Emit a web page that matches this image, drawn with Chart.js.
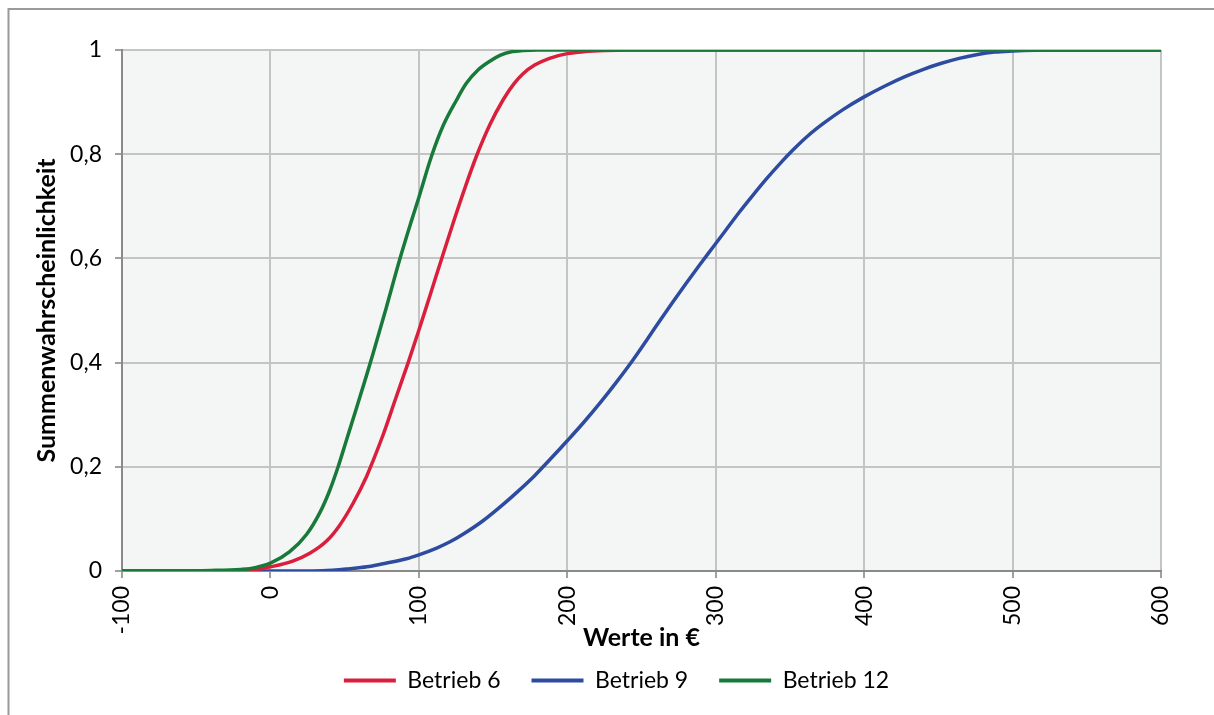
<!DOCTYPE html>
<html>
<head>
<meta charset="utf-8">
<script src="https://cdn.jsdelivr.net/npm/chart.js@4.4.1/dist/chart.umd.min.js"></script>
<style>
  html, body { margin: 0; padding: 0; background: #ffffff; }
  #wrap { width: 1214px; height: 715px; position: relative; }
</style>
</head>
<body>
<div id="wrap"><canvas id="c" width="1214" height="715"></canvas></div>
<script>
// Axis tick labels
const xTickLabels = ['-100', '0', '100', '200', '300', '400', '500', '600'];
const yTickLabels = ['0', '0,2', '0,4', '0,6', '0,8', '1'];
const seriesNames = ['Betrieb 6', 'Betrieb 9', 'Betrieb 12'];

// Betrieb 6: value in € and cumulative probability
const x6 = [-100, -40, -25, -14, 0, 15, 26.5, 38, 46.7, 55.7, 64.7, 69.2, 76, 84.5, 92.8, 100, 107.4, 115.3, 123.1, 131,
            138.9, 147.9, 156.9, 164, 170, 178, 188, 200, 212, 225, 240, 600];
const p6 = [0, 0, 0.0005, 0.001, 0.008, 0.019, 0.034, 0.058, 0.088, 0.13, 0.181, 0.212, 0.262, 0.332, 0.4, 0.462, 0.528, 0.599, 0.668, 0.735,
            0.797, 0.857, 0.905, 0.935, 0.954, 0.971, 0.984, 0.993, 0.997, 0.999, 1, 1];

// Betrieb 9
const x9 = [-100, 20, 35, 53.5, 65, 76, 91.7, 100, 112, 121, 130, 143, 156, 166, 178, 188, 200, 211, 222.5, 233,
            244, 253, 262, 271, 280, 289, 298, 307, 316, 325, 334, 343, 352, 362, 373, 386, 400, 414, 427.5, 440,
            451.5, 464, 475.6, 488, 500, 515, 530, 600];
const p9 = [0, 0, 0.0005, 0.0045, 0.008, 0.014, 0.0235, 0.031, 0.044, 0.056, 0.071, 0.096, 0.126, 0.151, 0.183, 0.213, 0.25, 0.285, 0.324, 0.362,
            0.404, 0.441, 0.479, 0.516, 0.552, 0.587, 0.621, 0.655, 0.689, 0.721, 0.752, 0.781, 0.808, 0.835, 0.86, 0.886, 0.91, 0.931, 0.949, 0.963,
            0.974, 0.984, 0.991, 0.996, 0.998, 0.9995, 1, 1];

// Betrieb 12
const x12 = [-100, -60, -40, -20, -13.9, 0, 13, 24.3, 33.3, 40, 45.6, 51.2, 58, 64.7, 69.2, 78, 87, 95, 100, 108.5,
             116.4, 125.4, 132, 140, 147, 155, 163, 170, 180, 200, 600];
const p12 = [0, 0, 0.001, 0.003, 0.0045, 0.015, 0.037, 0.07, 0.112, 0.155, 0.2, 0.251, 0.313, 0.375, 0.418, 0.505, 0.597, 0.672, 0.717, 0.796,
             0.855, 0.904, 0.936, 0.962, 0.977, 0.99, 0.997, 0.999, 1, 1, 1];

const colors = ['#DA1F3D', '#2E4C9F', '#187A3A'];
const FONT = 'Lato, "Open Sans", "DejaVu Sans", sans-serif';

function pts(xs, ys) { return xs.map((x, i) => ({ x: x, y: ys[i] })); }

// Light plot-area background and the frame lines of the chart object
const framePlugin = {
  id: 'frame',
  beforeDraw(chart) {
    const { ctx, chartArea: a } = chart;
    ctx.save();
    ctx.fillStyle = '#F4F6F5';
    ctx.fillRect(a.left, a.top, a.right - a.left, a.bottom - a.top);
    ctx.strokeStyle = '#9A9A9A';
    ctx.lineWidth = 2;
    ctx.beginPath();
    ctx.moveTo(8.5, chart.height);
    ctx.lineTo(8.5, 9);
    ctx.lineTo(chart.width, 9);
    ctx.stroke();
    ctx.restore();
  }
};

// Move the legend row closer to the axis title and centre it under the plot
const legendShift = {
  id: 'legendShift',
  afterLayout(chart) {
    const lg = chart.legend;
    if (!lg) return;
    const dy = -13, dx = 31;
    lg.top += dy; lg.bottom += dy;
    lg.left += dx; lg.right += dx;
  }
};

function mkSet(i, xs, ys, order) {
  return {
    label: seriesNames[i],
    data: pts(xs, ys),
    borderColor: colors[i],
    backgroundColor: colors[i],
    borderWidth: 3.5,
    pointRadius: 0,
    pointHoverRadius: 0,
    showLine: true,
    fill: false,
    cubicInterpolationMode: 'monotone',
    order: order
  };
}

new Chart(document.getElementById('c'), {
  type: 'scatter',
  data: {
    datasets: [
      mkSet(0, x6, p6, 1),
      mkSet(1, x9, p9, 2),
      mkSet(2, x12, p12, 0)
    ]
  },
  options: {
    responsive: false,
    animation: false,
    devicePixelRatio: 1,
    layout: { padding: { left: 10, right: 53, top: 50, bottom: 0 } },
    plugins: {
      tooltip: { enabled: false },
      legend: {
        position: 'bottom',
        labels: {
          font: { family: FONT, size: 23 },
          color: '#000000',
          boxWidth: 52,
          boxHeight: 4,
          padding: 31,
          sort: (a, b) => a.datasetIndex - b.datasetIndex,
          generateLabels(chart) {
            const items = Chart.defaults.plugins.legend.labels.generateLabels(chart);
            items.forEach(it => { it.lineWidth = 0; it.fillStyle = it.strokeStyle; });
            return items;
          }
        }
      }
    },
    scales: {
      x: {
        type: 'linear',
        min: -100,
        max: 600,
        afterFit(scale) { scale.height = 80; },
        ticks: {
          stepSize: 100,
          minRotation: 90,
          maxRotation: 90,
          padding: 8,
          color: '#000000',
          font: { family: FONT, size: 23 },
          callback: (v) => {
            const i = Math.round((v + 100) / 100);
            return xTickLabels[i] !== undefined ? xTickLabels[i] : '';
          }
        },
        grid: { color: '#C4C4C4', lineWidth: 2, tickLength: 7, tickColor: '#A0A0A0' },
        border: { color: '#8A8A8A', width: 2 },
        title: {
          display: true,
          text: 'Werte in €',
          color: '#000000',
          font: { family: FONT, size: 25, weight: 'bold' },
          padding: { top: 0, bottom: -2 }
        }
      },
      y: {
        type: 'linear',
        min: 0,
        max: 1,
        afterFit(scale) { scale.width = 112; },
        ticks: {
          stepSize: 0.2,
          padding: 13,
          color: '#000000',
          font: { family: FONT, size: 23 },
          callback: (v) => {
            const i = Math.round(v * 5);
            return yTickLabels[i] !== undefined ? yTickLabels[i] : '';
          }
        },
        grid: { color: '#C4C4C4', lineWidth: 2, tickLength: 7, tickColor: '#A0A0A0' },
        border: { color: '#8A8A8A', width: 2 },
        title: {
          display: true,
          text: 'Summenwahrscheinlichkeit',
          color: '#000000',
          font: { family: FONT, size: 25, weight: 'bold' },
          padding: { top: 22, bottom: 0 }
        }
      }
    }
  },
  plugins: [framePlugin, legendShift]
});
</script>
</body>
</html>
